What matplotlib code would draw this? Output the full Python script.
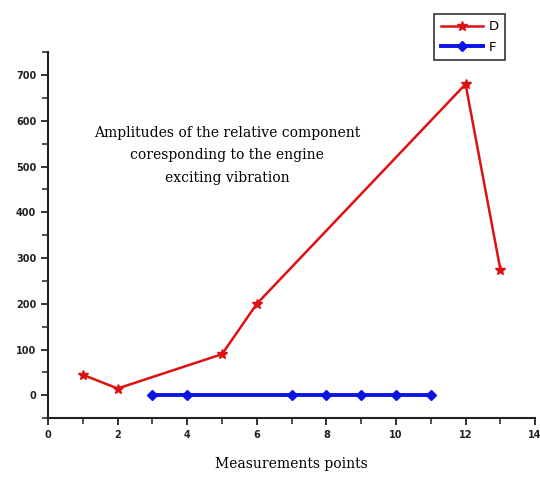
import matplotlib
matplotlib.use('Agg')
import matplotlib.pyplot as plt
from matplotlib.ticker import MultipleLocator

# D series (red stars)
d_x = [1, 2, 5, 6, 12, 13]
d_y = [45, 15, 90, 200, 680, 275]
# F series (blue diamonds)
f_x = [3, 4, 7, 8, 9, 10, 11]
f_y = [0, 0, 0, 0, 0, 0, 0]

note = 'Amplitudes of the relative component\ncoresponding to the engine\nexciting vibration'
xlabel = 'Measurements points'

fig = plt.figure(figsize=(5.4, 4.78), dpi=100)
ax = fig.add_axes([0.089, 0.125, 0.902, 0.766])

ax.plot(d_x, d_y, color='#dd1111', lw=1.8, marker='*', ms=7, label='D')
ax.plot(f_x, f_y, color='#0a14e6', lw=2.8, marker='D', ms=5.5, label='F')

ax.set_xlim(0, 14)
ax.set_ylim(-50, 750)
ax.xaxis.set_major_locator(MultipleLocator(2))
ax.xaxis.set_minor_locator(MultipleLocator(1))
ax.yaxis.set_minor_locator(MultipleLocator(50))
ax.set_yticks([0, 100, 200, 300, 400, 500, 600, 700])

for s in ['top', 'right']:
    ax.spines[s].set_visible(False)
for s in ['left', 'bottom']:
    ax.spines[s].set_linewidth(1.5)
    ax.spines[s].set_color('#222222')

ax.tick_params(which='major', direction='out', length=5, width=1.3, colors='#222222',
               labelsize=7)
ax.tick_params(which='minor', direction='out', length=4, width=1.1, colors='#222222')
for lab in ax.get_xticklabels() + ax.get_yticklabels():
    lab.set_fontweight('bold')

ax.text(5.15, 588, note, ha='center', va='top', fontsize=10, family='serif',
        linespacing=1.75)
ax.set_xlabel(xlabel, fontsize=10, family='serif', labelpad=12)

leg = ax.legend(loc='upper left', bbox_to_anchor=(0.792, 0.985),
                bbox_transform=fig.transFigure, frameon=True,
                fancybox=False, edgecolor='black', fontsize=9.5, handlelength=3.2,
                borderpad=0.5, labelspacing=0.55, handletextpad=0.4)
leg.get_frame().set_linewidth(1.2)

plt.savefig('out.png', dpi=100)
